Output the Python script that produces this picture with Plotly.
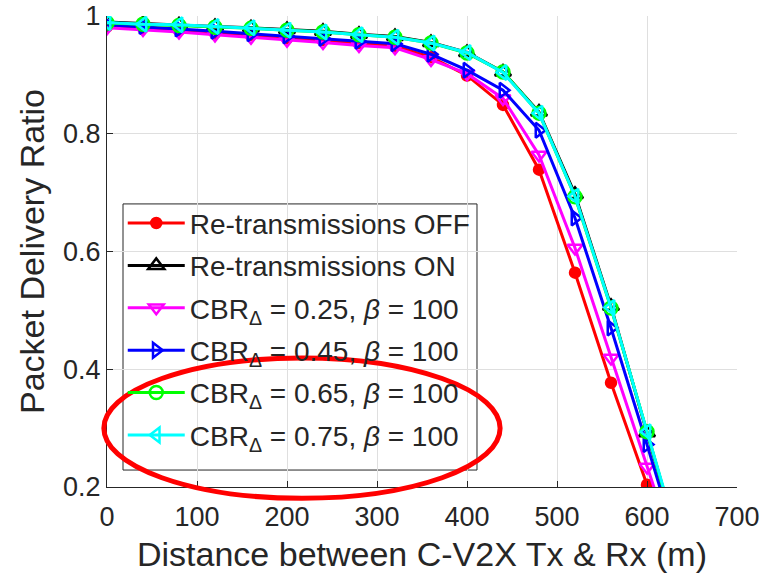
import plotly.graph_objects as go

dist = [0, 40, 80, 120, 160, 200, 240, 280, 320, 360, 400, 440, 480, 520, 560, 600, 640]

pdr_off = [0.982, 0.980, 0.976, 0.971, 0.968, 0.962, 0.959, 0.954, 0.949, 0.930, 0.899, 0.849, 0.739, 0.564, 0.377, 0.204, 0.030]
pdr_on = [0.990, 0.987, 0.985, 0.982, 0.980, 0.977, 0.974, 0.969, 0.965, 0.955, 0.938, 0.905, 0.837, 0.697, 0.507, 0.292, 0.080]
pdr_025 = [0.980, 0.977, 0.973, 0.968, 0.964, 0.959, 0.955, 0.950, 0.946, 0.926, 0.902, 0.860, 0.764, 0.606, 0.419, 0.234, 0.050]
pdr_045 = [0.985, 0.982, 0.978, 0.974, 0.970, 0.966, 0.962, 0.957, 0.953, 0.935, 0.908, 0.874, 0.806, 0.657, 0.470, 0.272, 0.070]
pdr_065 = [0.988, 0.986, 0.984, 0.981, 0.979, 0.976, 0.973, 0.968, 0.964, 0.954, 0.937, 0.905, 0.835, 0.693, 0.504, 0.294, 0.080]
pdr_075 = [0.989, 0.986, 0.985, 0.982, 0.980, 0.976, 0.973, 0.968, 0.964, 0.954, 0.938, 0.904, 0.835, 0.694, 0.505, 0.294, 0.085]

names = [
    "Re-transmissions OFF",
    "Re-transmissions ON",
    "CBR<sub>Δ</sub> = 0.25, <i>β</i> = 100",
    "CBR<sub>Δ</sub> = 0.45, <i>β</i> = 100",
    "CBR<sub>Δ</sub> = 0.65, <i>β</i> = 100",
    "CBR<sub>Δ</sub> = 0.75, <i>β</i> = 100",
]
series = [pdr_off, pdr_on, pdr_025, pdr_045, pdr_065, pdr_075]
colors = ["#ff0000", "#000000", "#ff00ff", "#0000ff", "#00ff00", "#00ffff"]
symbols = ["circle", "triangle-up-open", "triangle-down-open", "triangle-right-open", "circle-open", "triangle-left-open"]
sizes = [10, 14, 13, 13, 13, 13]

yticks = [0.2, 0.4, 0.6, 0.8, 1.0]
yticktext = ["0.2", "0.4", "0.6", "0.8", "1"]
xticks = [0, 100, 200, 300, 400, 500, 600, 700]

fig = go.Figure()
for i, (name, ys, c, s, sz) in enumerate(zip(names, series, colors, symbols, sizes)):
    fig.add_trace(go.Scatter(
        x=dist, y=ys, name=name, mode="lines+markers",
        legendgroup=f"g{i}",
        line=dict(color=c, width=3),
        marker=dict(symbol=s, size=sz, color=c, line=dict(color=c, width=2.5)),
    ))

font_family = "Liberation Sans, Arial, sans-serif"
axis_color = "#262626"

fig.update_layout(
    width=766, height=580,
    margin=dict(l=107, r=29, t=16, b=93),
    paper_bgcolor="white", plot_bgcolor="white",
    font=dict(family=font_family, size=27, color=axis_color),
    showlegend=True,
    legend=dict(
        x=0.025, y=0.613, xanchor="left", yanchor="top",
        bgcolor="rgba(0,0,0,0)", borderwidth=0,
        font=dict(size=28, color=axis_color),
        itemwidth=57, tracegroupgap=3, traceorder="grouped",
    ),
    xaxis=dict(
        range=[0, 700], tickvals=xticks,
        showgrid=True, gridcolor="#dfdfdf", gridwidth=1,
        showline=True, linecolor=axis_color, linewidth=1,
        ticks="inside", ticklen=6, tickcolor=axis_color,
        zeroline=False, mirror=False, automargin=False,
        ticklabelstandoff=6,
        title=dict(text="Distance between C-V2X Tx & Rx (m)", font=dict(size=34), standoff=10),
        tickfont=dict(size=27),
    ),
    yaxis=dict(
        range=[0.2, 1.0], tickvals=yticks, ticktext=yticktext,
        showgrid=True, gridcolor="#dfdfdf", gridwidth=1,
        showline=True, linecolor=axis_color, linewidth=1,
        ticks="inside", ticklen=6, tickcolor=axis_color,
        zeroline=False, automargin=False,
        title=dict(text="Packet Delivery Ratio", font=dict(size=34), standoff=8),
        tickfont=dict(size=27),
    ),
)

# legend box (white, above gridlines, below traces)
fig.add_shape(
    type="rect", xref="paper", yref="paper",
    x0=0.0254, x1=0.5873, y0=0.036, y1=0.601,
    fillcolor="white", line=dict(color="#262626", width=1), layer="between",
)

# highlight ellipse
fig.add_shape(
    type="circle", xref="paper", yref="paper",
    x0=-0.005, x1=0.624, y0=-0.024, y1=0.274,
    line=dict(color="#ff0000", width=5), layer="above",
)

fig.write_html("out.html")
